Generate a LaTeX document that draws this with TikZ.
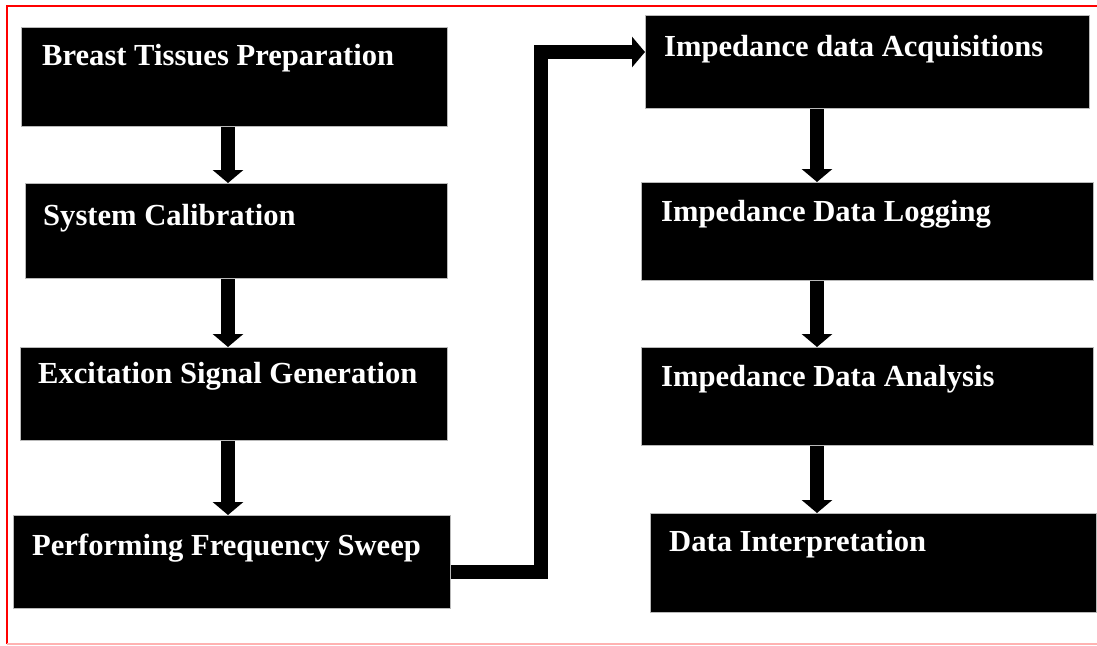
\documentclass[tikz,border=0pt]{standalone}
\usepackage{fontspec}
\setmainfont{Liberation Serif}
\usetikzlibrary{arrows.meta}

\tikzset{
  stepbox/.style={draw=gray!55, line width=1pt, fill=black, inner sep=0pt, anchor=north west},
  steptext/.style={text=white, font=\fontsize{30.6}{36}\selectfont\bfseries, inner sep=0pt, anchor=base west},
  flow/.style={line width=14pt, line join=miter,
    -{Triangle[width=30pt,length=13pt]}},
  frameline/.style={line width=1.5pt}
}

\begin{document}
\begin{tikzpicture}[x=1pt, y=-1pt]
  \useasboundingbox (0,0) rectangle (1097,645);

  % outer frame
  \draw[frameline, red] (1097,6) -- (7,6) -- (7,644);
  \draw[frameline, red!30] (7,644) -- (1097,644);

  % left column
  \node[stepbox, minimum width=426pt, minimum height=99pt] (b1) at (21,27) {};
  \node[stepbox, minimum width=422pt, minimum height=95pt] (b2) at (25,183) {};
  \node[stepbox, minimum width=427pt, minimum height=93pt] (b3) at (20,347) {};
  \node[stepbox, minimum width=437pt, minimum height=93pt] (b4) at (13,515) {};

  % right column
  \node[stepbox, minimum width=444pt, minimum height=93pt] (b5) at (645,15) {};
  \node[stepbox, minimum width=452pt, minimum height=98pt] (b6) at (641,182) {};
  \node[stepbox, minimum width=452pt, minimum height=98pt] (b7) at (641,347) {};
  \node[stepbox, minimum width=446pt, minimum height=99pt] (b8) at (650,513) {};

  % labels
  \node[steptext] (t1) at (42,65)  {Breast Tissues Preparation};
  \node[steptext] (t2) at (43,225) {System Calibration};
  \node[steptext] (t3) at (38,383) {Excitation Signal Generation};
  \node[steptext] (t4) at (32,555) {Performing Frequency Sweep};
  \node[steptext] (t5) at (664,56)  {Impedance data Acquisitions};
  \node[steptext] (t6) at (661,221) {Impedance Data Logging};
  \node[steptext] (t7) at (661,386) {Impedance Data Analysis};
  \node[steptext] (t8) at (669,551) {Data Interpretation};

  % arrow columns
  \coordinate (xl) at (228,0);
  \coordinate (xr) at (817,0);
  \coordinate (xm) at (541,0);
  \coordinate (ylow) at (0,572);
  \coordinate (yhigh) at (0,52);

  % connectors
  \draw[flow] (xl |- b1.south) -- (xl |- b2.north);
  \draw[flow] (xl |- b2.south) -- (xl |- b3.north);
  \draw[flow] (xl |- b3.south) -- (xl |- b4.north);
  \draw[flow] (b4.east |- ylow) -- (xm |- ylow) -- (xm |- yhigh) -- (b5.west |- yhigh);
  \draw[flow] (xr |- b5.south) -- (xr |- b6.north);
  \draw[flow] (xr |- b6.south) -- (xr |- b7.north);
  \draw[flow] (xr |- b7.south) -- (xr |- b8.north);
\end{tikzpicture}
\end{document}
